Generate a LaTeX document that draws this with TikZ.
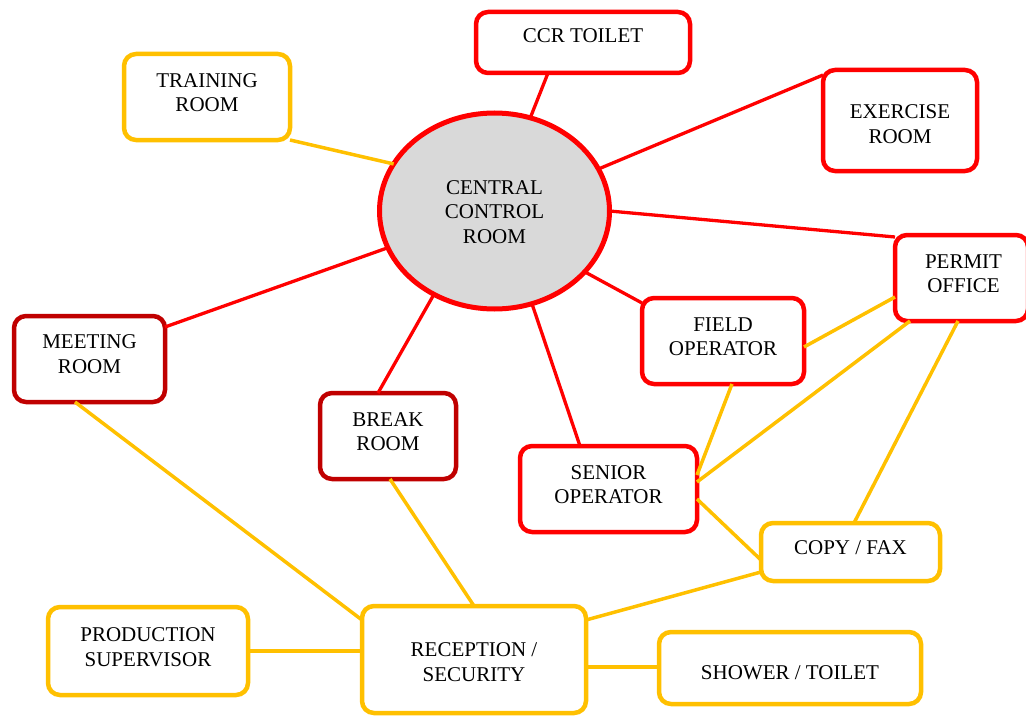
\documentclass[tikz,border=0pt]{standalone}
\usepackage{fontspec}
\setmainfont{Liberation Serif}
\usetikzlibrary{shapes.geometric,calc}
\definecolor{cred}{HTML}{FF0000}
\definecolor{cdark}{HTML}{C00000}
\definecolor{cyel}{HTML}{FFC000}
\definecolor{cgray}{HTML}{D9D9D9}
\newcommand{\txtfont}{\fontsize{21}{24.5}\selectfont}
\begin{document}
\begin{tikzpicture}[x=1pt,y=-1pt,
  box/.style={draw, rounded corners=12pt, line width=4.5pt, fill=white, outer sep=0pt, inner sep=0pt},
  redbox/.style={box, draw=cred},
  darkbox/.style={box, draw=cdark},
  yelbox/.style={box, draw=cyel},
  lbl/.style={align=center, font=\txtfont, inner sep=0pt, text=black},
  redline/.style={draw=cred, line width=3.3pt},
  yelline/.style={draw=cyel, line width=3.5pt},
]
\useasboundingbox (0,0) rectangle (1026,717);

\node[ellipse, draw=cred, fill=cgray, line width=5pt, minimum width=230pt, minimum height=196pt, inner sep=0pt, outer sep=0pt,
  label={[lbl,yshift=-1pt]center:CENTRAL\\CONTROL\\ROOM}] (ccr) at (494.5,211) {};

\node[redbox, minimum width=214pt, minimum height=61pt, label={[lbl,yshift=6.5pt]center:CCR TOILET}] (ccrt) at (583,42.5) {};
\node[yelbox, minimum width=166pt, minimum height=86pt, label={[lbl,yshift=4.5pt]center:TRAINING\\ROOM}] (train) at (207,97) {};
\node[redbox, minimum width=154pt, minimum height=101pt, label={[lbl,yshift=-3.5pt]center:EXERCISE\\ROOM}] (exer) at (900,120.5) {};
\node[redbox, minimum width=133pt, minimum height=86pt, label={[lbl,yshift=4.5pt,xshift=2pt]center:PERMIT\\OFFICE}] (permit) at (961.5,278) {};
\node[redbox, minimum width=162pt, minimum height=86pt, label={[lbl,yshift=4.5pt]center:FIELD\\OPERATOR}] (field) at (723,341) {};
\node[darkbox, minimum width=151pt, minimum height=86pt, label={[lbl,yshift=5pt]center:MEETING\\ROOM}] (meet) at (89.5,359) {};
\node[darkbox, minimum width=136pt, minimum height=86pt, label={[lbl,yshift=4.5pt]center:BREAK\\ROOM}] (brk) at (388,436) {};
\node[redbox, minimum width=177pt, minimum height=86pt, label={[lbl,yshift=4.5pt]center:SENIOR\\OPERATOR}] (senior) at (608.5,489) {};
\node[yelbox, minimum width=179pt, minimum height=58pt, label={[lbl,yshift=4pt]center:COPY / FAX}] (copy) at (850.5,552) {};
\node[yelbox, minimum width=200pt, minimum height=88pt, label={[lbl,yshift=4pt]center:PRODUCTION\\SUPERVISOR}] (prod) at (148,651) {};
\node[yelbox, minimum width=224pt, minimum height=107pt, label={[lbl,yshift=-2.5pt]center:RECEPTION /\\SECURITY}] (recep) at (474,659.5) {};
\node[yelbox, minimum width=262pt, minimum height=72pt, label={[lbl,yshift=-5pt]center:SHOWER / TOILET}] (shower) at (790,668) {};

% red connectors from the central control room
\draw[redline] (ccr.69.3) -- ([xshift=-35pt]ccrt.south);
\draw[redline] (ccr.22.6) -- ([yshift=-5pt]exer.north west);
\draw[redline] (ccr.-0.5) -- ([yshift=-2pt]permit.north west);
\draw[redline] (ccr.-34.2) -- ([yshift=-5pt]field.north west);
\draw[redline] (ccr.-68.1) -- ([xshift=-28.5pt]senior.north);
\draw[redline] (ccr.234.5) -- ([xshift=-10pt]brk.north);
\draw[redline] (ccr.199.6) -- ([yshift=-11pt]meet.north east);
\draw[yelline] (ccr.155.1) -- (train.south east);

% yellow connectors
\draw[yelline] ([yshift=-6pt]field.east) -- ([yshift=-19pt]permit.west);
\draw[yelline] ([xshift=9pt]field.south) -- ([yshift=14pt]senior.east);
\draw[yelline] ([xshift=-51.5pt]permit.south) -- ([yshift=7pt]senior.east);
\draw[yelline] ([xshift=-3.5pt]permit.south) -- ([xshift=3.5pt]copy.north);
\draw[yelline] ([yshift=-10pt]senior.east) -- ([yshift=-8pt]copy.west);
\draw[yelline] ([yshift=9pt]copy.south west) -- ([yshift=-14pt]recep.north east);
\draw[yelline] ([xshift=-14.5pt]meet.south) -- ([yshift=-14pt]recep.north west);
\draw[yelline] ([xshift=2pt]brk.south) -- (recep.north);
\draw[yelline] (prod.east) -- (prod.east -| recep.west);
\draw[yelline] ([yshift=-7.5pt]recep.east) -- ([yshift=-7.5pt]recep.east -| shower.west);
\end{tikzpicture}
\end{document}
